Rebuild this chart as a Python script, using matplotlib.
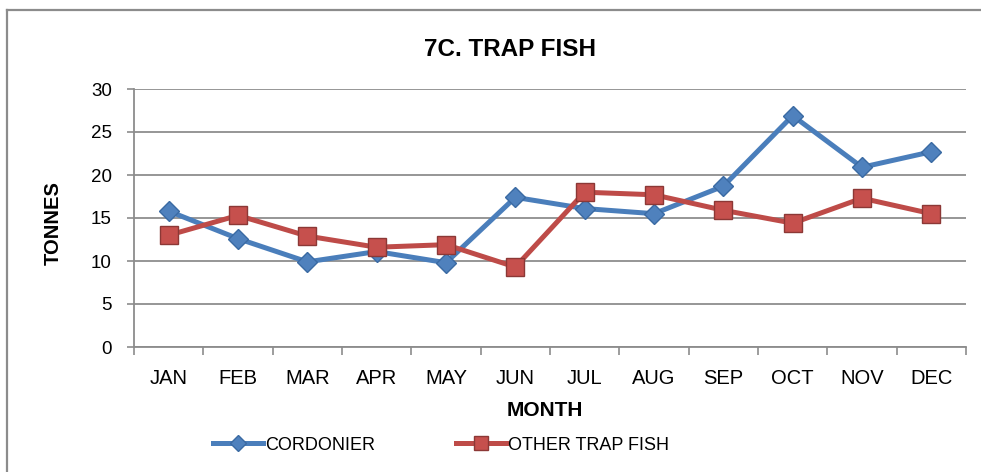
import matplotlib
matplotlib.use('Agg')
import matplotlib.pyplot as plt
import numpy as np

months = ['JAN', 'FEB', 'MAR', 'APR', 'MAY', 'JUN', 'JUL', 'AUG', 'SEP', 'OCT', 'NOV', 'DEC']
cordonier = [15.8, 12.6, 9.9, 11.1, 9.8, 17.4, 16.1, 15.5, 18.7, 26.9, 20.9, 22.7]
other_trap_fish = [13.0, 15.3, 12.9, 11.6, 11.9, 9.3, 18.0, 17.7, 15.9, 14.4, 17.3, 15.5]
yticks = [0, 5, 10, 15, 20, 25, 30]

plain = ['Liberation Sans', 'DejaVu Sans']

W, H = 981, 472
fig = plt.figure(figsize=(W / 100, H / 100), dpi=100)

# outer chart frame (only left and top edges are in view)
fig.add_artist(plt.Line2D([7 / W, 7 / W], [0, 1 - 10 / H], color='#8c8c8c', lw=1.6))
fig.add_artist(plt.Line2D([7 / W, 1], [1 - 10 / H, 1 - 10 / H], color='#8c8c8c', lw=1.6))

ax = fig.add_axes([134 / W, 1 - 347 / H, (966 - 134) / W, (347 - 89) / H])

x = np.arange(len(months))
ax.plot(x, cordonier, color='#4a7ebb', lw=3.6, marker='D', ms=10,
        mfc='#4f81bd', mec='#3a6aa3', mew=1, label='CORDONIER', zorder=3)
ax.plot(x, other_trap_fish, color='#be4b48', lw=3.6, marker='s', ms=13.5,
        mfc='#c6504d', mec='#8c3836', mew=1, label='OTHER TRAP FISH', zorder=4)

ax.set_xlim(-0.5, len(months) - 0.5)
ax.set_ylim(0, 30)
ax.set_yticks(yticks)
ax.set_xticks(x)
ax.set_xticklabels(months, family=plain, fontsize=14.5)
ax.set_xticks(np.arange(len(months) + 1) - 0.5, minor=True)
ax.tick_params(axis='x', which='major', length=0, pad=16)
ax.tick_params(axis='x', which='minor', length=6, width=1.2, color='#8c8c8c', direction='out')
ax.tick_params(axis='y', length=5, width=1.2, color='#8c8c8c', pad=11)
for t in ax.get_yticklabels():
    t.set_family(plain)
    t.set_fontsize(13.5)

ax.grid(axis='y', color='#8e8e8e', lw=1.3)
ax.set_axisbelow(True)
for s in ['top', 'right']:
    ax.spines[s].set_visible(False)
for s in ['left', 'bottom']:
    ax.spines[s].set_color('#8c8c8c')
    ax.spines[s].set_linewidth(1.3)

ax.set_ylabel('TONNES', family=plain, fontweight='bold', fontsize=14.5, va='center')
ax.yaxis.set_label_coords((53 - 134) / 832, (347 - 223) / 258)
ax.set_xlabel('MONTH', family=plain, fontweight='bold', fontsize=15, va='center')
ax.xaxis.set_label_coords((545 - 134) / 832, (347 - 411) / 258)

fig.text(510 / W, 1 - 49 / H, '7C. TRAP FISH', family=plain, fontweight='bold',
         fontsize=17.5, ha='center', va='center')

leg = fig.legend(loc='center', bbox_to_anchor=(441 / W, 1 - 445 / H), ncol=2,
                 frameon=False, prop={'family': plain, 'size': 13},
                 handlelength=2.77, handletextpad=0.1, columnspacing=4.5,
                 markerscale=0.78)

fig.savefig('out.png', dpi=100)
